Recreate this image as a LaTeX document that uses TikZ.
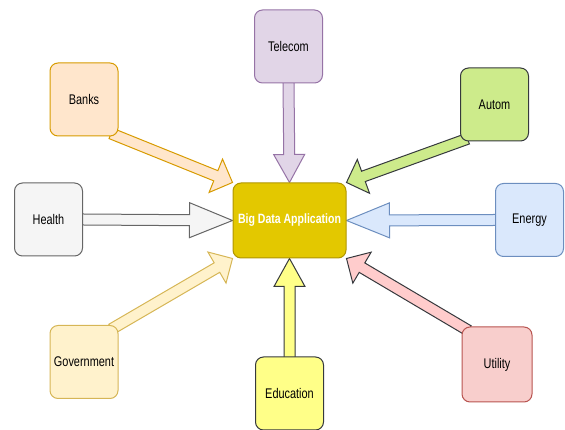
\documentclass[tikz,border=0pt]{standalone}
\usepackage{fontspec}
\setmainfont{Liberation Sans}[FakeStretch=0.78]
\usepackage{tikz}
\usetikzlibrary{calc}
\usetikzlibrary{backgrounds}

\definecolor{telecomfill}{HTML}{E1D5E7}
\definecolor{telecomline}{HTML}{9673A6}
\definecolor{banksfill}{HTML}{FFE6CC}
\definecolor{banksline}{HTML}{D79B00}
\definecolor{automfill}{HTML}{CDEB8B}
\definecolor{darkline}{HTML}{36393D}
\definecolor{healthfill}{HTML}{F5F5F5}
\definecolor{healthline}{HTML}{666666}
\definecolor{appfill}{HTML}{E3C800}
\definecolor{appline}{HTML}{B09500}
\definecolor{energyfill}{HTML}{DAE8FC}
\definecolor{energyline}{HTML}{6C8EBF}
\definecolor{govfill}{HTML}{FFF2CC}
\definecolor{govline}{HTML}{D6B656}
\definecolor{edufill}{HTML}{FFFF88}
\definecolor{utilfill}{HTML}{F8CECC}
\definecolor{utilline}{HTML}{B85450}
\definecolor{utilarrow}{HTML}{FFCCCC}

% block arrow: style, from, to, head length, head half width
\newcommand{\blockarrow}[5]{%
  \coordinate (s) at ($(#2)!-8pt!(#3)$);
  \coordinate (h) at ($(#3)!#4!(#2)$);
  \draw[#1] ($(s)!5.5pt!90:(#3)$) -- ($(h)!5.5pt!90:(#3)$) -- ($(h)!#5!90:(#3)$) -- (#3)
    -- ($(h)!#5!-90:(#3)$) -- ($(h)!5.5pt!-90:(#3)$) -- ($(s)!5.5pt!-90:(#3)$) -- cycle;
}

\begin{document}
\begin{tikzpicture}[x=1pt, y=1pt,
  box/.style={draw, rounded corners=8pt, line width=1pt,
              minimum width=68pt, minimum height=73pt,
              font=\fontsize{14}{16}\selectfont},
  arr/.style={line width=1pt}]
  \useasboundingbox (0,0) rectangle (565,430);

  % Centre
  \node[box, fill=appfill, draw=appline, text=white, font=\fontsize{13.5}{16}\selectfont\bfseries,
        minimum width=113pt, minimum height=75pt] (app) at (289.5,209.5) {Big Data Application};

  % Sources
  \node[box, fill=telecomfill, draw=telecomline] (telecom) at (288.5,383.5) {Telecom};
  \node[box, fill=banksfill, draw=banksline] (banks) at (84,330.5) {Banks};
  \node[box, fill=automfill, draw=darkline] (autom) at (494.5,325.5) {Autom};
  \node[box, fill=healthfill, draw=healthline] (health) at (48.5,210.5) {Health};
  \node[box, fill=energyfill, draw=energyline] (energy) at (529.5,210) {Energy};
  \node[box, fill=govfill, draw=govline] (gov) at (84,68) {Government};
  \node[box, fill=edufill, draw=darkline] (edu) at (289.5,36.5) {Education};
  \node[box, fill=utilfill, draw=utilline, minimum width=70pt, minimum height=75pt]
    (util) at (497,65.5) {Utility};

  % Arrows
  \begin{scope}[on background layer]
    \blockarrow{arr, fill=telecomfill, draw=telecomline}{telecom.south}{app.north}{28pt}{15.5pt}
    \blockarrow{arr, fill=edufill, draw=darkline}{edu.north}{app.south}{28pt}{15.5pt}
    \blockarrow{arr, fill=healthfill, draw=healthline}{health.east}{app.west}{43pt}{17.5pt}
    \blockarrow{arr, fill=energyfill, draw=energyline}{energy.west}{app.east}{43pt}{17.5pt}
    \blockarrow{arr, fill=banksfill, draw=banksline}{banks.south east}{app.north west}{18pt}{18pt}
    \blockarrow{arr, fill=automfill, draw=darkline}{autom.south west}{app.north east}{18pt}{18pt}
    \blockarrow{arr, fill=govfill, draw=govline}{gov.north east}{app.south west}{18pt}{18pt}
    \blockarrow{arr, fill=utilarrow, draw=darkline}{util.north west}{app.south east}{18pt}{18pt}
  \end{scope}
\end{tikzpicture}
\end{document}
